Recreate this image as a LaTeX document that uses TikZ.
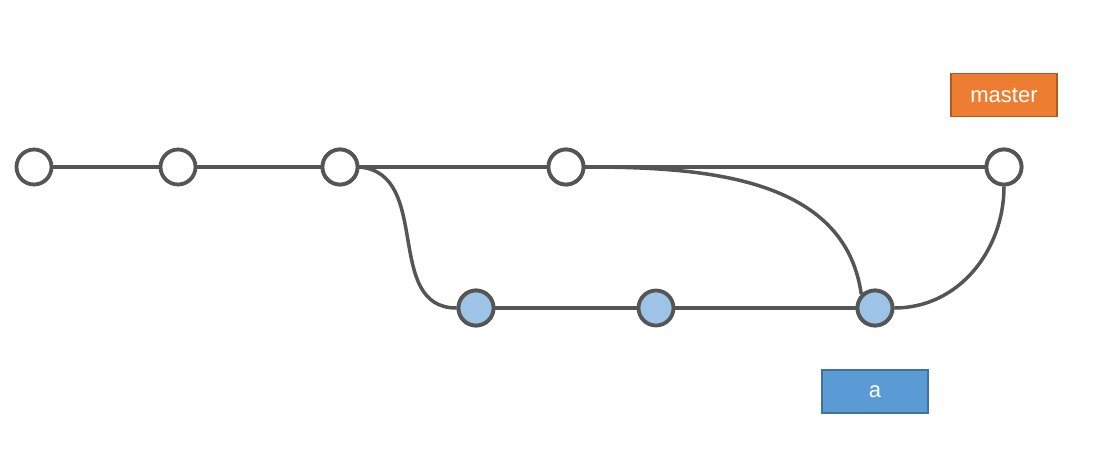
\documentclass[tikz,border=0pt]{standalone}
\usepackage{fontspec}
\setmainfont{Liberation Sans}
\definecolor{edgec}{HTML}{555555}
\definecolor{bluefill}{HTML}{9DC3E6}
\definecolor{orangefill}{HTML}{ED7D31}
\definecolor{orangeline}{HTML}{AE5A21}
\definecolor{boxblue}{HTML}{5B9BD5}
\definecolor{boxblueline}{HTML}{41719C}
\begin{document}
\begin{tikzpicture}[x=1pt,y=-1pt,
  commit/.style={circle,draw=edgec,line width=3.8pt,fill=white,minimum size=35pt,inner sep=0pt},
  bcommit/.style={commit,fill=bluefill},
  edge/.style={draw=edgec,line width=3.5pt},
  tag/.style={rectangle,minimum width=106pt,minimum height=43pt,inner sep=0pt,line width=1.2pt,text=white,font=\fontsize{22}{25}\selectfont}]
\useasboundingbox (0,0) rectangle (1096,452);
\node[commit] (c1) at (34,167) {};
\node[commit] (c2) at (178,167) {};
\node[commit] (c3) at (340,167) {};
\node[commit] (c4) at (566,167) {};
\node[commit] (c5) at (1004,167) {};
\node[bcommit] (b1) at (476,308) {};
\node[bcommit] (b2) at (656,308) {};
\node[bcommit] (b3) at (875,308) {};
\node[tag,fill=orangefill,draw=orangeline] (master) at (1004,95) {master};
\node[tag,fill=boxblue,draw=boxblueline] (a) at (875,391.5) {a};
\path[edge] (c1) -- (c2);
\path[edge] (c2) -- (c3);
\path[edge] (c3) -- (c4);
\path[edge] (c4) -- (c5);
\path[edge] (b1) -- (b2);
\path[edge] (b2) -- (b3);
\path[edge] (c3.east) to[out=-5,in=180,looseness=1.1] (b1.west);
\path[edge] (c4.east) to[out=0,in=98,looseness=1.0] (b3.north west);
\path[edge] (c5.south) to[out=-90,in=0] (b3.east);
\node[commit] at (c3) {};
\node[commit] at (c4) {};
\node[commit] at (c5) {};
\node[bcommit] at (b1) {};
\node[bcommit] at (b3) {};
\end{tikzpicture}
\end{document}
